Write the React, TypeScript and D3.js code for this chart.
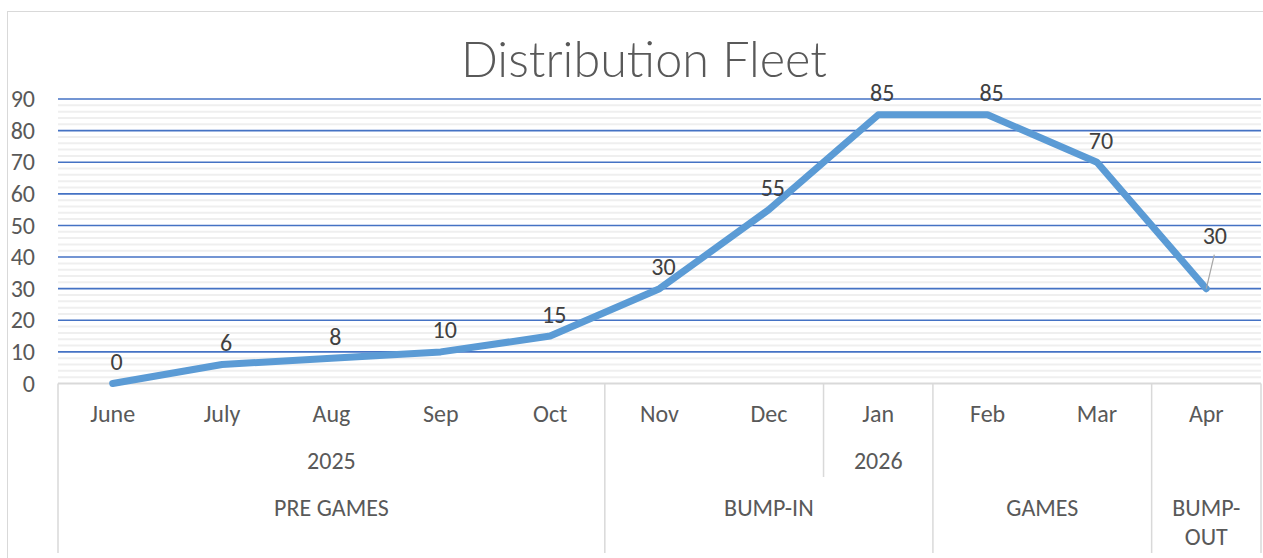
import React, { useRef, useEffect } from "react";
import * as d3 from "d3";

// chart data
const months = ["June", "July", "Aug", "Sep", "Oct", "Nov", "Dec", "Jan", "Feb", "Mar", "Apr"];
const fleet = [0, 6, 8, 10, 15, 30, 55, 85, 85, 70, 30];
// multi-level category columns (blank = continues previous cell)
const yearCol = ["2025", "", "", "", "", "", "", "2026", "", "", ""];
const phaseCol = ["PRE GAMES", "", "", "", "", "BUMP-IN", "", "", "GAMES", "", "BUMP-OUT"];
const yTicks = [0, 10, 20, 30, 40, 50, 60, 70, 80, 90];
const title = "Distribution Fleet";

const W = 1263;
const H = 558;
const FONT = "Calibri, Carlito, 'Noto Sans', sans-serif";
const TITLE_FONT = "'Calibri Light', Lato, Carlito, sans-serif";

type Group = { label: string; start: number; end: number };

function groupsOf(col: string[], breaks: Set<number>): Group[] {
  const out: Group[] = [];
  col.forEach((v, i) => {
    if (i === 0 || v !== "" || breaks.has(i)) out.push({ label: v, start: i, end: i + 1 });
    else out[out.length - 1].end = i + 1;
  });
  return out;
}

export default function App() {
  const svgRef = useRef<SVGSVGElement>(null);

  useEffect(() => {
    if (!svgRef.current) return;
    const svg = d3.select(svgRef.current);
    svg.selectAll("*").remove();

    const left = 58, right = 1261, top = 99, bottom = 383.5;
    const x = d3.scaleBand<string>().domain(months).range([left, right]).padding(0);
    const y = d3.scaleLinear().domain([0, 90]).range([bottom, top]);
    const cx = (m: string) => (x(m) as number) + x.bandwidth() / 2;

    // chart frame
    svg.append("rect").attr("x", 7.5).attr("y", 11.5).attr("width", W).attr("height", H)
      .attr("fill", "#fff").attr("stroke", "#d9d9d9");

    // title
    svg.append("text").attr("x", 644).attr("y", 77).attr("text-anchor", "middle")
      .attr("font-family", TITLE_FONT).attr("font-weight", 300).attr("font-size", 50)
      .attr("textLength", 366).attr("lengthAdjust", "spacingAndGlyphs")
      .attr("fill", "#595959").text(title);

    // minor grid (every 2)
    const minor = d3.range(0, 90, 2).filter((v) => v % 10 !== 0);
    svg.append("g").selectAll("line").data(minor).join("line")
      .attr("x1", left).attr("x2", right).attr("y1", (d) => y(d)).attr("y2", (d) => y(d))
      .attr("stroke", "#efefef").attr("stroke-width", 2);

    // major grid
    svg.append("g").selectAll("line").data(yTicks.filter((d) => d > 0)).join("line")
      .attr("x1", left).attr("x2", right).attr("y1", (d) => y(d)).attr("y2", (d) => y(d))
      .attr("stroke", "#4472C4").attr("stroke-width", 1.6);

    // y axis labels
    svg.append("g").attr("transform", `translate(${left},0)`)
      .call(d3.axisLeft(y).tickValues(yTicks).tickSize(0).tickPadding(23).tickFormat(d3.format("d")))
      .call((g) => g.select(".domain").remove())
      .call((g) => g.selectAll(".tick text").attr("fill", "#595959").attr("font-size", "24px")
        .attr("font-family", FONT).attr("dy", "0.32em"));

    // category axis line
    svg.append("line").attr("x1", left).attr("x2", right).attr("y1", bottom).attr("y2", bottom)
      .attr("stroke", "#d9d9d9").attr("stroke-width", 2);

    // multi-level category axis
    const phaseGroups = groupsOf(phaseCol, new Set());
    const phaseStarts = new Set(phaseGroups.map((g) => g.start));
    const yearGroups = groupsOf(yearCol, phaseStarts);
    const edge = (i: number) => (i >= months.length ? right : (x(months[i]) as number));
    const sep = svg.append("g").attr("stroke", "#d9d9d9").attr("stroke-width", 1.5);
    const fullBottom = 553, yearBottom = 477;
    const phaseEdges = [...phaseGroups.map((g) => g.start), months.length];
    phaseEdges.forEach((i) => {
      sep.append("line").attr("x1", edge(i)).attr("x2", edge(i)).attr("y1", bottom).attr("y2", fullBottom);
    });
    yearGroups.filter((g) => !phaseStarts.has(g.start)).forEach((g) => {
      sep.append("line").attr("x1", edge(g.start)).attr("x2", edge(g.start)).attr("y1", bottom).attr("y2", yearBottom);
    });

    const txt = svg.append("g").attr("font-family", FONT).attr("font-size", 24)
      .attr("fill", "#595959").attr("text-anchor", "middle");
    months.forEach((m) => txt.append("text").attr("x", cx(m)).attr("y", 422).text(m));
    yearGroups.filter((g) => g.label).forEach((g) => {
      txt.append("text").attr("x", (edge(g.start) + edge(g.end)) / 2).attr("y", 469).text(g.label);
    });
    phaseGroups.forEach((g) => {
      const mid = (edge(g.start) + edge(g.end)) / 2;
      const narrow = g.end - g.start === 1 && g.label.includes("-");
      const lines = narrow ? [g.label.slice(0, g.label.indexOf("-") + 1), g.label.slice(g.label.indexOf("-") + 1)] : [g.label];
      lines.forEach((l, k) => txt.append("text").attr("x", mid).attr("y", 516 + k * 28.5).text(l));
    });

    // series line
    const pts = months.map((m, i) => ({ m, v: fleet[i] }));
    const line = d3.line<{ m: string; v: number }>().x((d) => cx(d.m)).y((d) => y(d.v));
    svg.append("path").datum(pts).attr("d", line).attr("fill", "none")
      .attr("stroke", "#5B9BD5").attr("stroke-width", 7)
      .attr("stroke-linejoin", "round").attr("stroke-linecap", "round");

    // data labels (last one pulled out with a leader line)
    const lbl = svg.append("g").attr("font-family", FONT).attr("font-size", 24)
      .attr("fill", "#404040").attr("text-anchor", "middle");
    pts.forEach((d, i) => {
      const px = cx(d.m), py = y(d.v);
      if (i === pts.length - 1) {
        svg.append("line").attr("x1", px + 8).attr("y1", py - 34).attr("x2", px).attr("y2", py)
          .attr("stroke", "#a6a6a6").attr("stroke-width", 1.2);
        lbl.append("text").attr("x", px + 8.5).attr("y", py - 44.5).text(d.v);
      } else {
        lbl.append("text").attr("x", px + 4).attr("y", py - 13.5).text(d.v);
      }
    });
  }, []);

  return (
    <svg ref={svgRef} width={W} height={H}
      style={{ position: "absolute", left: 0, top: 0, background: "#fff" }} />
  );
}
